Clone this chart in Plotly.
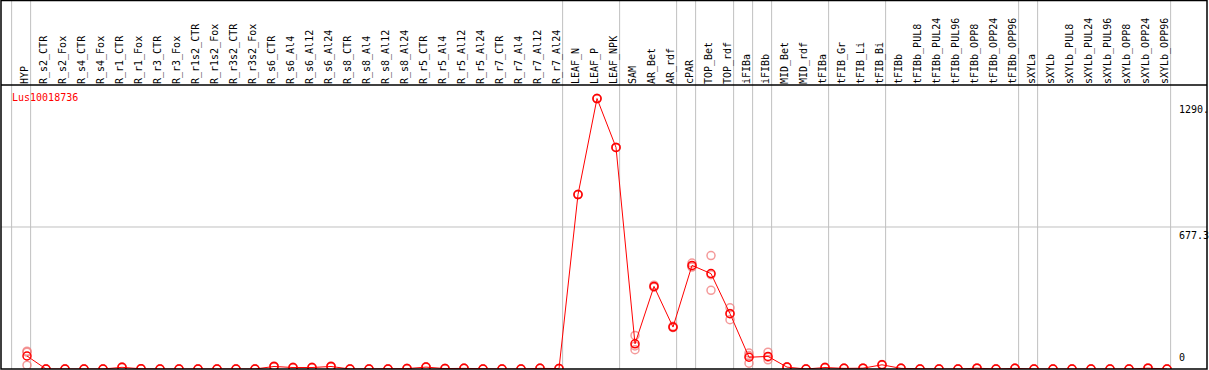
import plotly.graph_objects as go

categories = ["HYP", "R_s2_CTR", "R_s2_Fox", "R_s4_CTR", "R_s4_Fox", "R_r1_CTR", "R_r1_Fox",
              "R_r3_CTR", "R_r3_Fox", "R_r1s2_CTR", "R_r1s2_Fox", "R_r3s2_CTR", "R_r3s2_Fox",
              "R_s6_CTR", "R_s6_Al4", "R_s6_Al12", "R_s6_Al24", "R_s8_CTR", "R_s8_Al4", "R_s8_Al12",
              "R_s8_Al24", "R_r5_CTR", "R_r5_Al4", "R_r5_Al12", "R_r5_Al24", "R_r7_CTR", "R_r7_Al4",
              "R_r7_Al12", "R_r7_Al24", "LEAF_N", "LEAF_P", "LEAF_NPK", "SAM", "AR_Bet", "AR_rdf",
              "cPAR", "TOP_Bet", "TOP_rdf", "iFIBa", "iFIBb", "MID_Bet", "MID_rdf", "tFIBa",
              "tFIB_Gr", "tFIB_Li", "tFIB_Bi", "tFIBb", "tFIBb_PUL8", "tFIBb_PUL24", "tFIBb_PUL96",
              "tFIBb_OPP8", "tFIBb_OPP24", "tFIBb_OPP96", "sXYLa", "sXYLb", "sXYLb_PUL8",
              "sXYLb_PUL24", "sXYLb_PUL96", "sXYLb_OPP8", "sXYLb_OPP24", "sXYLb_OPP96"]

mean_values = [62, 0, 0, 0, 0, 8, 1, 0, 0, 0, 0, 0, 0, 12, 7, 7, 12, 0, 0, 0,
               2, 9, 2, 3, 0, 0, 0, 3, 2, 832, 1290, 1057, 120, 394, 200, 494, 455, 264,
               56, 60, 9, 0, 7, 3, 4, 20, 3, 0, 0, 0, 4, 0, 3, 0, 0, 0, 0, 0, 0, 4, 0]

rep1 = [85, 0, 0, 0, 0, 10, 1, 0, 0, 0, 0, 0, 0, 14, 8, 8, 14, 0, 0, 0,
        2, 10, 2, 3, 0, 0, 0, 3, 2, 832, 1290, 1057, 160, 400, 204, 505, 541, 292,
        76, 80, 10, 0, 8, 3, 4, 22, 3, 0, 0, 0, 5, 0, 3, 0, 0, 0, 0, 0, 0, 5, 0]
rep2 = [80, 0, 0, 0, 0, 7, 1, 0, 0, 0, 0, 0, 0, 11, 6, 7, 11, 0, 0, 0,
        2, 8, 2, 3, 0, 0, 0, 3, 2, 832, 1290, 1057, 92, 390, 198, 486, 375, 235,
        28, 44, 9, 0, 7, 3, 4, 19, 3, 0, 0, 0, 4, 0, 3, 0, 0, 0, 0, 0, 0, 4, 0]
rep3 = [18, 0, 0, 0, 0, 7, 1, 0, 0, 0, 0, 0, 0, 11, 7, 6, 11, 0, 0, 0,
        2, 9, 2, 3, 0, 0, 0, 3, 2, 832, 1290, 1057, 110, 392, 198, 491, 450, 265,
        64, 56, 8, 0, 6, 3, 4, 19, 3, 0, 0, 0, 3, 0, 3, 0, 0, 0, 0, 0, 0, 3, 0]

# group separators drawn after these category indices (-1 = before first)
separators_after = [-1, 0, 28, 31, 34, 35, 37, 38, 39, 42, 45, 52, 53, 60]

y_max = 1290
y_mid = 677.3
y_tick_labels = ["0", "677.3", "1290."]
title_text = "Lus10018736"

x_idx = list(range(len(categories)))
font_family = "DejaVu Sans Mono"

fig = go.Figure()
for reps in (rep1, rep2, rep3):
    fig.add_trace(go.Scatter(
        x=x_idx, y=reps, mode="markers",
        marker=dict(symbol="circle-open", size=8, color="rgba(240,120,120,0.75)",
                    line=dict(width=1.5)),
        showlegend=False, hoverinfo="skip"))
fig.add_trace(go.Scatter(
    x=x_idx, y=mean_values, mode="lines+markers",
    line=dict(color="#ff0000", width=1),
    marker=dict(symbol="circle-open", size=8, color="#ff0000", line=dict(width=1.5)),
    showlegend=False))

shapes = []
top_paper = 1 + 84.5 / 284
for s in separators_after:
    shapes.append(dict(type="line", xref="x", yref="paper", x0=s + 0.19, x1=s + 0.19,
                       y0=0, y1=top_paper, line=dict(color="#c0c0c0", width=1), layer="below"))
shapes.append(dict(type="line", xref="paper", yref="y", x0=0, x1=1, y0=y_mid, y1=y_mid,
                   line=dict(color="#c0c0c0", width=1), layer="below"))
# frame
shapes.append(dict(type="rect", xref="paper", yref="paper", x0=0, x1=1, y0=0, y1=top_paper,
                   line=dict(color="black", width=1.5), fillcolor="rgba(0,0,0,0)"))
shapes.append(dict(type="line", xref="paper", yref="paper", x0=0, x1=1, y0=1, y1=1,
                   line=dict(color="black", width=1.5)))

annotations = [
    dict(text=title_text, xref="paper", yref="paper", x=0.0075, y=0.955, xanchor="left",
         yanchor="middle", showarrow=False, font=dict(family=font_family, size=10, color="#ff0000")),
]
for val, lab, anc in zip([0, y_mid, y_max], y_tick_labels, ["bottom", "top", "top"]):
    annotations.append(dict(text=lab, xref="paper", yref="y", x=0.9755, y=val, xanchor="left",
                            yanchor=anc, showarrow=False,
                            yshift=4 if anc == "bottom" else (-1 if val == y_mid else -3),
                            font=dict(family=font_family, size=10, color="black")))

fig.update_layout(
    width=1209, height=370,
    margin=dict(l=1, r=2, t=85, b=1),
    paper_bgcolor="white", plot_bgcolor="white",
    shapes=shapes, annotations=annotations,
    xaxis=dict(range=[-26 / 19, 1180 / 19], side="top", tickmode="array",
               tickvals=x_idx, ticktext=categories, tickangle=-90, ticks="",
               ticklabelshift=-2,
               showgrid=False, zeroline=False, showline=False, automargin=False,
               tickfont=dict(family=font_family, size=10, color="black")),
    yaxis=dict(range=[0, y_max * 1.05], showticklabels=False, showgrid=False,
               zeroline=False, showline=False, ticks="", automargin=False),
    font=dict(family=font_family),
)

fig.write_html("out.html", config={"displayModeBar": False},
               post_script="document.body.style.margin='0';document.body.style.overflow='hidden';")
